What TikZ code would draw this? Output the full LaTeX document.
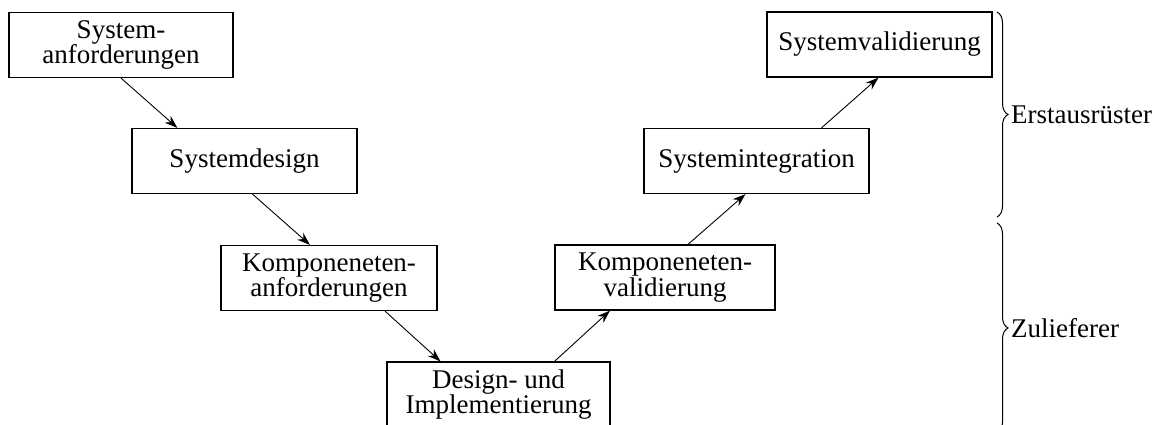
\documentclass[tikz,border=0pt]{standalone}
\usepackage{fontspec}
\setmainfont{Liberation Serif}
\usetikzlibrary{arrows.meta,decorations.pathreplacing}
\begin{document}
\begin{tikzpicture}[x=1pt,y=-1pt,
  box/.style={draw,line width=1.2pt,inner sep=0pt,minimum height=65pt,align=center,font=\fontsize{27}{24}\selectfont},
  arr/.style={line width=0.9pt,-{Stealth[length=13pt,width=9pt]}},
  brc/.style={decorate,decoration={brace,amplitude=11pt},line width=1pt},
  lbl/.style={anchor=west,inner sep=0pt,font=\fontsize{27}{24}\selectfont}]
\useasboundingbox (0,0) rectangle (1160,425);
\clip (0,0) rectangle (1160,425);
\node[box,minimum width=224pt] (b1) at (121,45) {System-\\anforderungen};
\node[box,minimum width=225pt] (b2) at (244.5,161) {Systemdesign};
\node[box,minimum width=216pt] (b3) at (329,278) {Komponeneten-\\anforderungen};
\node[box,minimum width=223pt] (b4) at (498.5,394.5) {Design- und\\Implementierung};
\node[box,minimum width=220pt] (b5) at (665,277.5) {Komponeneten-\\validierung};
\node[box,minimum width=225pt] (b6) at (756.5,161) {Systemintegration};
\node[box,minimum width=225pt] (b7) at (879.5,44.5) {Systemvalidierung};
\draw[arr] (b1.south) -- ([xshift=46pt]b2.north west);
\draw[arr] ([xshift=8pt]b2.south) -- ([xshift=-19pt]b3.north);
\draw[arr] ([xshift=56pt]b3.south) -- ([xshift=-58pt]b4.north);
\draw[arr] ([xshift=56pt]b4.north) -- ([xshift=-55pt]b5.south);
\draw[arr] ([xshift=23pt]b5.north) -- ([xshift=-11pt]b6.south);
\draw[arr] ([xshift=65pt]b6.north) -- ([xshift=-1pt]b7.south);
\coordinate (t1) at (997,12);
\coordinate (u1) at (997,217);
\coordinate (t2) at (997,223);
\coordinate (u2) at (997,433);
\draw[brc] (t1) -- (u1);
\draw[brc] (t2) -- (u2);
\node[lbl] (l1) at (1011,115) {Erstausrüster};
\node[lbl] (l2) at (1011,328) {Zulieferer};
\end{tikzpicture}
\end{document}
